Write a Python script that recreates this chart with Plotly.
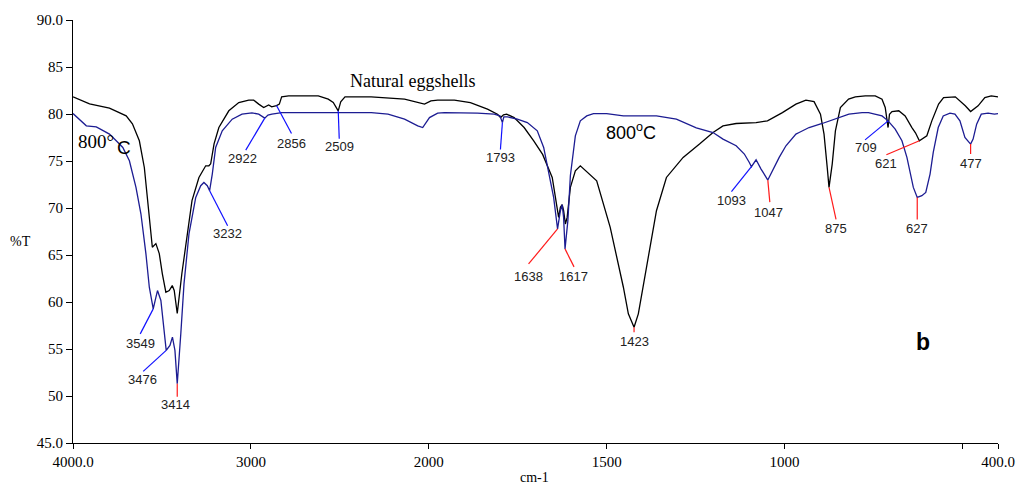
import numpy as np
import plotly.graph_objects as go

# ---- FTIR spectrum: natural eggshells (black) ----
natural_wn = [4000, 3907, 3795, 3701, 3666, 3627, 3599, 3582, 3562, 3554, 3534, 3515,
              3498, 3478, 3459, 3442, 3431, 3414, 3388, 3358, 3331, 3292, 3254, 3236,
              3226, 3207, 3180, 3124, 3068, 3012, 2984, 2956, 2928, 2900, 2883, 2856,
              2840, 2827, 2788, 2621, 2565, 2537, 2509, 2495, 2471, 2324, 2136, 2024,
              1994, 1975, 1928, 1883, 1835, 1807, 1798, 1790, 1781, 1760, 1732, 1705,
              1680, 1653, 1639, 1635, 1630, 1625, 1621, 1616, 1611, 1602, 1588, 1574,
              1528, 1490, 1453, 1439, 1423, 1411, 1388, 1360, 1332, 1285, 1239, 1201,
              1173, 1136, 1080, 1048, 1006, 968, 940, 917, 899, 889, 880, 875, 866,
              857, 843, 820, 801, 773, 745, 726, 717, 709, 705, 698, 679, 661, 642,
              632, 621, 610, 600, 586, 567, 553, 520, 492, 477, 456, 437, 419, 400]
natural_t = [81.82, 81.08, 80.62, 79.80, 78.96, 77.15, 74.31, 70.78, 67.27, 65.82, 66.21, 65.15,
             63.03, 61.04, 61.22, 61.75, 61.22, 58.78, 63.03, 67.27, 70.78, 73.25, 74.49, 74.49,
             74.70, 76.83, 78.56, 80.34, 81.22, 81.47, 81.47, 81.05, 80.69, 80.97, 80.76, 80.90,
             81.05, 81.82, 81.93, 81.93, 81.58, 81.22, 80.34, 81.30, 81.82, 81.82, 81.58, 81.05,
             81.40, 81.47, 81.47, 81.22, 80.52, 79.98, 79.62, 79.91, 79.98, 79.62, 78.56, 77.15,
             75.70, 73.25, 70.07, 69.00, 70.07, 70.35, 69.71, 68.30, 69.00, 72.19, 73.96, 74.49,
             72.90, 67.94, 61.57, 58.74, 57.32, 58.74, 63.69, 69.71, 73.25, 75.38, 76.80, 78.03,
             78.74, 78.99, 79.09, 79.27, 80.15, 81.05, 81.47, 81.32, 79.98, 77.86, 74.31, 72.19, 74.67,
             78.21, 80.69, 81.58, 81.82, 81.93, 81.93, 81.58, 80.69, 78.56, 79.98, 80.26, 80.34, 79.80, 78.56,
             78.00, 77.15, 77.40, 77.68, 79.27, 81.05, 81.75, 81.82, 80.87, 80.26, 80.87, 81.75, 81.93, 81.82]

# ---- FTIR spectrum: eggshells calcined at 800 °C (navy) ----
calcined_wn = [4000, 3925, 3869, 3795, 3757, 3720, 3683, 3646, 3618, 3590, 3571, 3549,
               3534, 3525, 3506, 3487, 3476, 3455, 3441, 3427, 3414, 3394, 3376, 3348,
               3310, 3282, 3264, 3245, 3232, 3217, 3198, 3161, 3105, 3050, 2994, 2956,
               2928, 2922, 2904, 2882, 2826, 2509, 2323, 2229, 2136, 2062, 2034, 1998,
               1975, 1956, 1863, 1816, 1800, 1793, 1789, 1779, 1751, 1723, 1695, 1677,
               1663, 1649, 1638, 1630, 1625, 1621, 1617, 1609, 1602, 1588, 1574, 1556,
               1537, 1500, 1453, 1360, 1304, 1248, 1201, 1173, 1136, 1113, 1099, 1093,
               1080, 1066, 1047, 1034, 1015, 996, 968, 959, 931, 894, 857, 819, 782,
               764, 726, 709, 689, 670, 656, 647, 638, 627, 614, 603, 591, 582, 568,
               554, 535, 521, 507, 493, 477, 470, 460, 447, 428, 410, 400]
calcined_t = [80.05, 78.74, 78.63, 77.86, 77.15, 76.44, 75.02, 72.19, 69.36, 65.12, 61.57, 59.27,
              60.50, 61.22, 60.16, 56.62, 54.85, 55.38, 56.26, 54.85, 51.31, 56.62, 61.93, 67.24,
              71.13, 72.37, 72.72, 72.37, 71.84, 73.61, 76.44, 78.21, 79.45, 79.98, 80.12, 79.98,
              79.70, 79.56, 79.88, 79.98, 80.15, 80.15, 80.15, 79.98, 79.45, 78.74, 78.56, 79.62,
              80.09, 80.15, 80.09, 79.98, 79.80, 79.09, 79.70, 79.70, 79.45, 79.09, 78.21, 76.44,
              73.96, 71.13, 67.77, 69.71, 70.35, 69.00, 65.65, 68.65, 73.43, 77.68, 79.27, 79.80,
              80.05, 80.05, 79.80, 79.80, 79.45, 78.53, 78.03, 77.33, 76.62, 75.74, 74.84, 74.39,
              75.13, 74.14, 72.97, 73.96, 75.38, 76.62, 77.86, 78.03, 78.56, 78.99, 79.45, 79.98, 80.15,
              80.15, 79.80, 79.27, 78.39, 77.15, 75.38, 73.61, 72.19, 71.13, 71.31, 71.66, 73.61, 75.91, 78.56,
              79.80, 80.09, 79.98, 79.27, 77.50, 76.80, 77.33, 78.92, 79.98, 80.09, 79.98, 80.05]

# ---- axis ticks ----
x_tick_wn = [4000, 3000, 2000, 1500, 1000, 400]
x_tick_text = ["4000.0", "3000", "2000", "1500", "1000", "400.0"]
x_minor_wn = [500]
y_tick_vals = [45, 50, 55, 60, 65, 70, 75, 80, 85, 90]
y_tick_text = ["45.0", "50", "55", "60", "65", "70", "75", "80", "85", "90.0"]

# ---- band assignments: (wavenumber, spectrum, leader colour, line end dx/dy, label dx/dy) ----
bands = [
    (3549, "cal", "blue", (-13, 25), (-13, 35)),
    (3476, "cal", "blue", (-23, 21), (-24, 29)),
    (3414, "cal", "red", (0, 13), (-2, 21)),
    (3232, "cal", "blue", (18, 35), (18, 43)),
    (2922, "cal", "blue", (-19, 32), (-22, 40)),
    (2856, "nat", "blue", (15, 28), (15, 38)),
    (2509, "nat", "blue", (1, 28), (1, 36)),
    (1793, "cal", "blue", (-2, 27), (-2, 35)),
    (1638, "cal", "red", (-29, 35), (-29, 48)),
    (1617, "cal", "red", (9, 18), (8, 28)),
    (1423, "nat", "red", (0, 5), (0, 14)),
    (1093, "cal", "blue", (-20, 25), (-20, 34)),
    (1047, "cal", "red", (2, 22), (1, 32)),
    (875, "nat", "red", (7, 32), (7, 41)),
    (709, "cal", "blue", (-23, 19), (-22, 27)),
    (627, "cal", "red", (0, 22), (0, 31)),
    (621, "nat", "red", (-33, 14), (-33, 23)),
    (477, "cal", "red", (0, 10), (0, 19)),
]


def to_axis(wn):
    """Spectrometer abscissa: half scale above 2000 cm-1, full scale below."""
    wn = np.asarray(wn, dtype=float)
    return np.where(wn >= 2000, (4000 - wn) / 2.0, 1000 + (2000 - wn))


series = {
    "nat": (np.array(natural_wn, float), np.array(natural_t, float)),
    "cal": (np.array(calcined_wn, float), np.array(calcined_t, float)),
}


def t_at(key, wn):
    w, t = series[key]
    return float(np.interp(wn, w[::-1], t[::-1]))


NAVY = "#1c1c92"
fig = go.Figure()
fig.add_trace(go.Scatter(x=to_axis(natural_wn), y=natural_t, mode="lines",
                         line=dict(color="#000000", width=1.3), name="Natural eggshells"))
fig.add_trace(go.Scatter(x=to_axis(calcined_wn), y=calcined_t, mode="lines",
                         line=dict(color=NAVY, width=1.3), name="800°C"))

shapes = []
annotations = []
leader_colors = {"blue": "#1010ff", "red": "#ff1a1a"}
for wn, key, col, (lx, ly), (tx, ty) in bands:
    xa = float(to_axis(wn))
    ya = t_at(key, wn)
    shapes.append(dict(type="line", xref="x", yref="y",
                       xsizemode="pixel", ysizemode="pixel",
                       xanchor=xa, yanchor=ya, x0=0, y0=0, x1=lx, y1=-ly,
                       line=dict(color=leader_colors[col], width=1.2)))
    annotations.append(dict(x=xa, y=ya, xref="x", yref="y", text=str(wn),
                            showarrow=False, xshift=tx, yshift=-ty,
                            xanchor="center", yanchor="middle",
                            font=dict(family="Liberation Sans", size=13, color="#222222")))

PLOT_L, PLOT_T, PLOT_W, PLOT_H = 73, 19, 930, 424


def paper(px, py):
    return (px - PLOT_L) / PLOT_W, 1 - (py - PLOT_T) / PLOT_H


def text_at(px, py, text, family, size, bold=False):
    x, y = paper(px, py)
    if bold:
        text = "<b>" + text + "</b>"
    annotations.append(dict(x=x, y=y, xref="paper", yref="paper", text=text,
                            showarrow=False, xanchor="center", yanchor="middle",
                            font=dict(family=family, size=size, color="#000000")))


text_at(414, 80, "Natural eggshells", "Liberation Serif", 18)
text_at(96, 141, "800°", "Liberation Serif", 19)
text_at(124, 147, "C", "Liberation Sans", 19)
text_at(634, 131, "800<sup>o</sup>C", "Liberation Sans", 18)
text_at(928, 342, "b", "Liberation Sans", 23, bold=True)
text_at(20, 241, "%T", "Liberation Serif", 14)
text_at(537, 478, "cm-1", "Liberation Serif", 14)

axis_font = dict(family="Liberation Serif", size=15, color="#000000")
fig.update_layout(
    width=1027, height=487, autosize=False,
    margin=dict(l=PLOT_L, r=1027 - PLOT_L - PLOT_W, t=PLOT_T, b=487 - PLOT_T - PLOT_H, pad=0),
    paper_bgcolor="white", plot_bgcolor="white",
    showlegend=False,
    shapes=shapes, annotations=annotations,
    xaxis=dict(range=[0, 2600], tickvals=list(to_axis(x_tick_wn)), ticktext=x_tick_text,
               showgrid=False, zeroline=False, showline=True, linecolor="#000000", linewidth=1,
               ticks="outside", ticklen=5, tickcolor="#000000", tickfont=axis_font,
               minor=dict(tickvals=list(to_axis(x_minor_wn)), ticks="outside", ticklen=5,
                          tickcolor="#000000", showgrid=False)),
    yaxis=dict(range=[45, 90], tickvals=y_tick_vals, ticktext=y_tick_text,
               showgrid=False, zeroline=False, showline=True, linecolor="#000000", linewidth=1,
               ticks="outside", ticklen=6, tickcolor="#000000", tickfont=axis_font),
)

fig.write_html("out.html")
